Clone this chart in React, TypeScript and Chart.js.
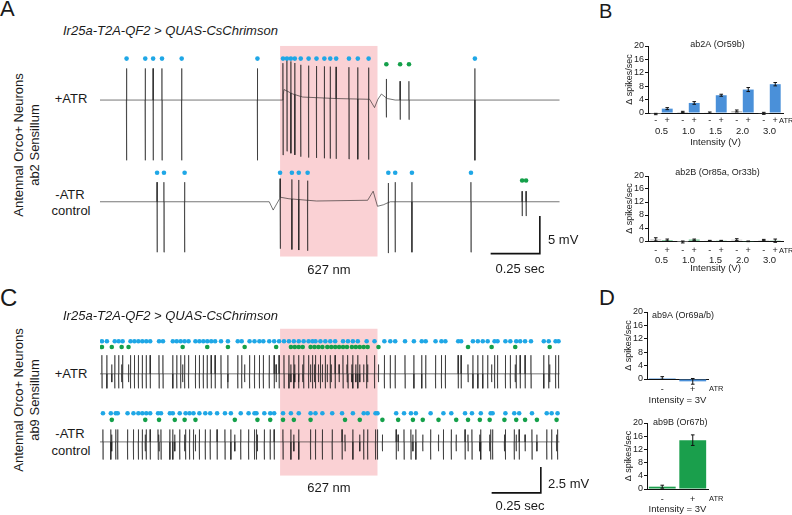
import React, { useEffect, useRef } from "react";
import { Chart, registerables } from "chart.js";

Chart.register(...registerables);

const FONT = "'Liberation Sans', Arial, Helvetica, sans-serif";
Chart.defaults.font.family = FONT;
Chart.defaults.color = "#222";

// ---------------- Panel A (ab2) : spike times in ms ----------------
const A_PLUS_SPIKES_A = [135, 230, 270, 315, 415, 800, 930, 950, 970, 990, 1020, 1060, 1100, 1140, 1170, 1200, 1265, 1310, 1365, 1905];
const A_PLUS_SPIKES_B = [1455, 1525, 1570];
const A_MINUS_SPIKES_A = [290, 325, 430, 915, 975, 1010, 1055, 1465, 1500, 1585, 1885];
const A_MINUS_SPIKES_B = [2145, 2165];
// slow baseline deflections [ms, mV]
const A_PLUS_BASELINE: [number, number][] = [[0, 0], [925, 0], [935, 1.4], [980, 0.8], [1030, 0.4], [1200, 0.2], [1370, 0.1], [1395, -1.0], [1412, 0.1], [1430, 0.8], [1460, 0.2], [1500, 0], [2335, 0]];
const A_MINUS_BASELINE: [number, number][] = [[0, 0], [860, 0], [880, -1.1], [918, 0.6], [960, 0.4], [1100, 0.1], [1360, 0.2], [1388, 1.4], [1410, -0.6], [1440, -0.4], [1475, 0], [2335, 0]];
// spike amplitudes [up, down] mV
const A_PLUS_AMP_A = [4.2, 8.0];
const A_PLUS_AMP_B = [2.5, 2.6];
const A_MINUS_AMP_A = [2.6, 6.7];
const A_MINUS_AMP_B = [1.4, 1.9];

// ---------------- Panel C (ab9) : spike times in ms ----------------
const C_PLUS_SPIKES_A = [10, 35, 75, 95, 115, 155, 175, 195, 215, 235, 255, 300, 320, 370, 390, 410, 430, 450, 485, 505, 525, 545, 565, 585, 615, 650, 700, 720, 760, 785, 810, 830, 860, 885, 910, 935, 960, 985, 1010, 1035, 1060, 1080, 1095, 1120, 1145, 1170, 1195, 1235, 1260, 1285, 1310, 1355, 1395, 1445, 1475, 1500, 1550, 1595, 1635, 1655, 1705, 1735, 1755, 1820, 1835, 1895, 1920, 1945, 1970, 2005, 2020, 2060, 2085, 2115, 2135, 2160, 2190, 2255, 2280, 2315, 2330];
const C_PLUS_SPIKES_B = [10, 60, 110, 145, 420, 545, 650, 735, 895, 970, 990, 1010, 1030, 1070, 1090, 1110, 1130, 1155, 1175, 1195, 1215, 1235, 1255, 1280, 1300, 1320, 1340, 1360, 1415, 1870, 1990, 2110, 2285];
const C_MINUS_SPIKES_A = [15, 55, 80, 90, 140, 170, 195, 215, 235, 255, 295, 310, 355, 370, 405, 435, 455, 475, 505, 535, 560, 595, 635, 665, 715, 755, 785, 795, 835, 865, 885, 930, 970, 1010, 1070, 1095, 1130, 1180, 1230, 1285, 1340, 1360, 1400, 1410, 1505, 1545, 1580, 1605, 1680, 1745, 1785, 1855, 1890, 1935, 1985, 1995, 2060, 2105, 2130, 2195, 2270, 2295, 2325];
const C_MINUS_SPIKES_B = [60, 230, 300, 380, 430, 485, 685, 800, 865, 930, 985, 1070, 1245, 1320, 1435, 1515, 1590, 1640, 1720, 1810, 1870, 1930, 1980, 2055, 2115, 2160, 2220, 2320];
const C_PLUS_BASELINE: [number, number][] = [[0, 0], [2335, 0]];
const C_MINUS_BASELINE: [number, number][] = [[0, 0], [2335, 0]];
const C_PLUS_AMP_A = [1.8, 1.4];
const C_PLUS_AMP_B = [0.9, 0.8];
const C_MINUS_AMP_A = [1.2, 1.7];
const C_MINUS_AMP_B = [0.7, 0.9];

// light stimulus (ms)
const LIGHT_ON = 915;
const LIGHT_OFF = 1410;

// ---------------- Panel B / D bar data ----------------
const INTENSITIES = ["0.5", "1.0", "1.5", "2.0", "3.0"];
const AB2A_MINUS = [-0.3, 0.3, 0.1, 0.6, -0.1];
const AB2A_MINUS_ERR = [0.2, 0.2, 0.2, 0.3, 0.3];
const AB2A_PLUS = [1.3, 3.0, 5.3, 7.0, 8.6];
const AB2A_PLUS_ERR = [0.3, 0.4, 0.3, 0.6, 0.5];
const AB2B_MINUS = [0.5, -0.3, 0.1, 0.4, 0.3];
const AB2B_MINUS_ERR = [0.5, 0.3, 0.1, 0.3, 0.2];
const AB2B_PLUS = [0.3, 0.4, 0.1, -0.1, 0.1];
const AB2B_PLUS_ERR = [0.3, 0.2, 0.1, 0.1, 0.5];
const ATR_LABELS = ["-", "+"];
const AB9A_VALUES = [0.3, -0.7];
const AB9A_ERR = [0.4, 0.85];
const AB9B_VALUES = [0.7, 14.8];
const AB9B_ERR = [0.45, 1.6];
const Y_TICK_STEP = 4;
const Y_MAX = 20;

// ---------------- colours ----------------
const TRACE = "rgba(25,25,25,0.85)";
const BLUE_DOT = "#1fa7e6";
const GREEN_DOT = "#14a04a";
const BAR_BLUE = "#4a90d9";
const BAR_GREEN = "#1a9f4c";
const BAR_GRAY = "#c2c2c2";
const PINK = "rgba(242, 140, 148, 0.4)";

function baseAt(knots: [number, number][], t: number) {
  for (let i = 0; i < knots.length - 1; i++) {
    const [t0, v0] = knots[i];
    const [t1, v1] = knots[i + 1];
    if (t >= t0 && t <= t1) return v0 + ((v1 - v0) * (t - t0)) / (t1 - t0 || 1);
  }
  return knots[knots.length - 1][1];
}

function buildTrace(knots: [number, number][], offset: number, spikes: { times: number[]; amp: number[] }[]) {
  const pts: { x: number; y: number }[] = knots.map(([t, v]) => ({ x: t, y: v + offset }));
  spikes.forEach((s) =>
    s.times.forEach((t) => {
      const b = baseAt(knots, t) + offset;
      pts.push({ x: t - 1.0, y: b }, { x: t - 0.3, y: b + s.amp[0] }, { x: t + 0.3, y: b - s.amp[1] }, { x: t + 1.2, y: b });
    })
  );
  pts.sort((a, b) => a.x - b.x);
  return pts;
}

const lightBoxPlugin = {
  id: "lightBox",
  beforeDatasetsDraw(chart: any, _a: any, o: any) {
    const { ctx, scales } = chart;
    const x0 = scales.x.getPixelForValue(o.from);
    const x1 = scales.x.getPixelForValue(o.to);
    const y0 = scales.y.getPixelForValue(o.top);
    const y1 = scales.y.getPixelForValue(o.bottom);
    ctx.save();
    ctx.fillStyle = PINK;
    ctx.fillRect(x0, y0, x1 - x0, y1 - y0);
    ctx.restore();
  },
};

const scaleBarPlugin = {
  id: "scaleBar",
  afterDatasetsDraw(chart: any, _a: any, o: any) {
    const { ctx, scales } = chart;
    const xa = scales.x.getPixelForValue(o.xEnd - o.xLen);
    const xb = scales.x.getPixelForValue(o.xEnd);
    const yb = scales.y.getPixelForValue(o.yBottom);
    const yt = scales.y.getPixelForValue(o.yBottom + o.yLen);
    ctx.save();
    ctx.strokeStyle = "#111";
    ctx.lineWidth = 1.6;
    ctx.beginPath();
    ctx.moveTo(xa, yb);
    ctx.lineTo(xb, yb);
    ctx.lineTo(xb, yt);
    ctx.stroke();
    ctx.restore();
  },
};

type Row = {
  baseline: [number, number][];
  offset: number;
  spikesA: number[];
  spikesB: number[];
  ampA: number[];
  ampB: number[];
  dotA: number;
  dotB: number;
};

function traceConfig(rows: Row[], yMin: number, yMax: number, light: any, bar: any) {
  const datasets: any[] = [];
  rows.forEach((r) => {
    datasets.push({
      data: buildTrace(r.baseline, r.offset, [
        { times: r.spikesA, amp: r.ampA },
        { times: r.spikesB, amp: r.ampB },
      ]),
      showLine: true,
      borderColor: TRACE,
      borderWidth: 0.7,
      pointRadius: 0,
      order: 2,
    });
    datasets.push({
      data: r.spikesA.map((t) => ({ x: t, y: r.dotA })),
      showLine: false,
      pointRadius: 2.3,
      backgroundColor: BLUE_DOT,
      borderWidth: 0,
      order: 1,
    });
    datasets.push({
      data: r.spikesB.map((t) => ({ x: t, y: r.dotB })),
      showLine: false,
      pointRadius: 2.3,
      backgroundColor: GREEN_DOT,
      borderWidth: 0,
      order: 1,
    });
  });
  return {
    type: "scatter",
    data: { datasets },
    options: {
      animation: false,
      responsive: false,
      events: [],
      layout: { padding: 0 },
      plugins: { legend: { display: false }, tooltip: { enabled: false }, lightBox: light, scaleBar: bar },
      scales: {
        x: { type: "linear", display: false, min: 0, max: 2500 },
        y: { type: "linear", display: false, min: yMin, max: yMax },
      },
    },
    plugins: [lightBoxPlugin, scaleBarPlugin],
  };
}

const barDecorPlugin = {
  id: "barDecor",
  afterDatasetsDraw(chart: any, _a: any, o: any) {
    const { ctx, chartArea, scales } = chart;
    const y = scales.y;
    ctx.save();
    chart.data.datasets.forEach((ds: any, di: number) => {
      const meta = chart.getDatasetMeta(di);
      meta.data.forEach((el: any, i: number) => {
        const v = ds.data[i];
        const e = ds.errors[i];
        const yt = y.getPixelForValue(v + e);
        const yb = y.getPixelForValue(v - e);
        ctx.strokeStyle = "#111";
        ctx.lineWidth = 1;
        ctx.beginPath();
        ctx.moveTo(el.x, yt);
        ctx.lineTo(el.x, yb);
        ctx.moveTo(el.x - 1.8, yt);
        ctx.lineTo(el.x + 1.8, yt);
        ctx.moveTo(el.x - 1.8, yb);
        ctx.lineTo(el.x + 1.8, yb);
        ctx.stroke();
        if (o.showSigns) {
          ctx.fillStyle = "#222";
          ctx.font = `9px ${FONT}`;
          ctx.textAlign = "center";
          ctx.textBaseline = "middle";
          ctx.fillText(ds.sign, el.x, chartArea.bottom + o.signDy);
        }
      });
    });
    ctx.fillStyle = "#222";
    ctx.font = `7.5px ${FONT}`;
    ctx.textAlign = "left";
    ctx.textBaseline = "middle";
    ctx.fillText("ATR", chartArea.right + o.atrDx, chartArea.bottom + o.signDy);
    ctx.font = `9px ${FONT}`;
    ctx.textAlign = o.titleAlign;
    const tx = o.titleAlign === "center" ? (chartArea.left + chartArea.right) / 2 + o.titleDx : chartArea.left + o.titleDx;
    ctx.fillText(o.title, tx, chartArea.top + o.titleDy);
    ctx.restore();
  },
};

function barConfig(p: {
  labels: string[];
  datasets: any[];
  xTitle: string;
  padTop: number;
  padRight: number;
  yAxisWidth: number;
  xAxisHeight: number;
  tickPad: number;
  tickSize: number;
  catPct: number;
  barPct: number;
  decor: any;
}) {
  return {
    type: "bar",
    data: {
      labels: p.labels,
      datasets: p.datasets.map((d) => ({
        ...d,
        categoryPercentage: p.catPct,
        barPercentage: p.barPct,
        borderWidth: 0,
        clip: false,
      })),
    },
    options: {
      animation: false,
      responsive: false,
      events: [],
      layout: { padding: { top: p.padTop, right: p.padRight, left: 0, bottom: 0 } },
      plugins: { legend: { display: false }, tooltip: { enabled: false }, barDecor: p.decor },
      scales: {
        x: {
          grid: { display: false, drawTicks: false },
          border: { display: true, color: "#111", width: 1 },
          ticks: { padding: p.tickPad, font: { size: p.tickSize }, color: "#222", maxRotation: 0, autoSkip: false },
          title: { display: true, text: p.xTitle, font: { size: 9.5 }, padding: 0, color: "#222" },
          afterFit: (s: any) => {
            s.height = p.xAxisHeight;
          },
        },
        y: {
          min: 0,
          max: Y_MAX,
          ticks: { stepSize: Y_TICK_STEP, font: { size: 9 }, padding: 1, color: "#222", autoSkip: false },
          grid: { drawOnChartArea: false, drawTicks: true, tickLength: 3, color: "#111" },
          border: { display: true, color: "#111", width: 1 },
          title: { display: true, text: "Δ spikes/sec", font: { size: 9 }, padding: 0, color: "#222" },
          afterFit: (s: any) => {
            s.width = p.yAxisWidth;
          },
        },
      },
    },
    plugins: [barDecorPlugin],
  };
}

function ChartCanvas({ left, top, width, height, config }: { left: number; top: number; width: number; height: number; config: () => any }) {
  const ref = useRef<HTMLCanvasElement>(null);
  useEffect(() => {
    const chart = new Chart(ref.current as HTMLCanvasElement, config());
    return () => chart.destroy();
  }, []);
  return <canvas ref={ref} width={width} height={height} style={{ position: "absolute", left, top, width, height }} />;
}

function Txt({ x, y, children, size = 13, align = "left", italic = false }: any) {
  return (
    <div
      style={{
        position: "absolute",
        left: x,
        top: y,
        transform: `translate(${align === "center" ? "-50%" : "0"}, -50%)`,
        fontSize: size,
        fontStyle: italic ? "italic" : "normal",
        whiteSpace: "nowrap",
        lineHeight: 1,
        color: "#1a1a1a",
      }}
    >
      {children}
    </div>
  );
}

function Rotated({ x, y, lines }: { x: number; y: number; lines: string[] }) {
  return (
    <div
      style={{
        position: "absolute",
        left: x,
        top: y,
        transform: "translate(-50%, -50%) rotate(-90deg)",
        textAlign: "center",
        fontSize: 13,
        lineHeight: "15.5px",
        whiteSpace: "nowrap",
        color: "#1a1a1a",
      }}
    >
      {lines.map((l, i) => (
        <div key={i}>{l}</div>
      ))}
    </div>
  );
}

export default function App() {
  const cfgA = () =>
    traceConfig(
      [
        { baseline: A_PLUS_BASELINE, offset: 0, spikesA: A_PLUS_SPIKES_A, spikesB: A_PLUS_SPIKES_B, ampA: A_PLUS_AMP_A, ampB: A_PLUS_AMP_B, dotA: 5.5, dotB: 4.75 },
        { baseline: A_MINUS_BASELINE, offset: -13.5, spikesA: A_MINUS_SPIKES_A, spikesB: A_MINUS_SPIKES_B, ampA: A_MINUS_AMP_A, ampB: A_MINUS_AMP_B, dotA: -9.65, dotB: -10.68 },
      ],
      -22.69,
      7.44,
      { from: LIGHT_ON, to: LIGHT_OFF, top: 7.18, bottom: -20.77 },
      { xEnd: 2235, xLen: 250, yBottom: -20.38, yLen: 5 }
    );
  const cfgC = () =>
    traceConfig(
      [
        { baseline: C_PLUS_BASELINE, offset: 0, spikesA: C_PLUS_SPIKES_A, spikesB: C_PLUS_SPIKES_B, ampA: C_PLUS_AMP_A, ampB: C_PLUS_AMP_B, dotA: 3.15, dotB: 2.59 },
        { baseline: C_MINUS_BASELINE, offset: -6.57, spikesA: C_MINUS_SPIKES_A, spikesB: C_MINUS_SPIKES_B, ampA: C_MINUS_AMP_A, ampB: C_MINUS_AMP_B, dotA: -3.8, dotB: -4.44 },
      ],
      -13.24,
      4.81,
      { from: LIGHT_ON, to: LIGHT_OFF, top: 4.35, bottom: -9.82 },
      { xEnd: 2240, xLen: 250, yBottom: -11.49, yLen: 2.5 }
    );

  const cfgB1 = () =>
    barConfig({
      labels: INTENSITIES,
      datasets: [
        { data: AB2A_MINUS, errors: AB2A_MINUS_ERR, backgroundColor: BAR_GRAY, sign: "-" },
        { data: AB2A_PLUS, errors: AB2A_PLUS_ERR, backgroundColor: BAR_BLUE, sign: "+" },
      ],
      xTitle: "Intensity (V)",
      padTop: 10,
      padRight: 9,
      yAxisWidth: 24,
      xAxisHeight: 35,
      tickPad: 13,
      tickSize: 9.5,
      catPct: 0.85,
      barPct: 0.95,
      decor: { showSigns: true, signDy: 8, atrDx: -4, title: "ab2A (Or59b)", titleAlign: "center", titleDx: 2, titleDy: -1 },
    });
  const cfgB2 = () =>
    barConfig({
      labels: INTENSITIES,
      datasets: [
        { data: AB2B_MINUS, errors: AB2B_MINUS_ERR, backgroundColor: BAR_GRAY, sign: "-" },
        { data: AB2B_PLUS, errors: AB2B_PLUS_ERR, backgroundColor: BAR_GREEN, sign: "+" },
      ],
      xTitle: "Intensity (V)",
      padTop: 10,
      padRight: 9,
      yAxisWidth: 24,
      xAxisHeight: 33,
      tickPad: 14,
      tickSize: 9.5,
      catPct: 0.85,
      barPct: 0.95,
      decor: { showSigns: true, signDy: 10, atrDx: -4, title: "ab2B (Or85a, Or33b)", titleAlign: "center", titleDx: 2, titleDy: -3 },
    });
  const cfgD1 = () =>
    barConfig({
      labels: ATR_LABELS,
      datasets: [{ data: AB9A_VALUES, errors: AB9A_ERR, backgroundColor: [BAR_BLUE, BAR_BLUE] }],
      xTitle: "Intensity = 3V",
      padTop: 10,
      padRight: 84,
      yAxisWidth: 24,
      xAxisHeight: 27,
      tickPad: 5,
      tickSize: 9,
      catPct: 1,
      barPct: 0.88,
      decor: { showSigns: false, signDy: 10, atrDx: 1, title: "ab9A (Or69a/b)", titleAlign: "left", titleDx: 5, titleDy: 4 },
    });
  const cfgD2 = () =>
    barConfig({
      labels: ATR_LABELS,
      datasets: [{ data: AB9B_VALUES, errors: AB9B_ERR, backgroundColor: [BAR_GREEN, BAR_GREEN] }],
      xTitle: "Intensity = 3V",
      padTop: 10,
      padRight: 84,
      yAxisWidth: 24,
      xAxisHeight: 26,
      tickPad: 5,
      tickSize: 9,
      catPct: 1,
      barPct: 0.88,
      decor: { showSigns: false, signDy: 10, atrDx: 1, title: "ab9B (Or67b)", titleAlign: "left", titleDx: 6, titleDy: 0 },
    });

  return (
    <div
      style={{
        position: "fixed",
        left: 0,
        top: 0,
        width: 792,
        height: 515,
        overflow: "hidden",
        background: "#fff",
        fontFamily: FONT,
      }}
    >
      <ChartCanvas left={96} top={40} width={500} height={235} config={cfgA} />
      <ChartCanvas left={96} top={320} width={500} height={195} config={cfgC} />
      <ChartCanvas left={624} top={36} width={168} height={112} config={cfgB1} />
      <ChartCanvas left={624} top={166} width={168} height={108} config={cfgB2} />
      <ChartCanvas left={623} top={302} width={169} height={104} config={cfgD1} />
      <ChartCanvas left={623} top={413} width={169} height={102} config={cfgD2} />

      <Txt x={0} y={9} size={22}>A</Txt>
      <Txt x={599} y={11} size={20}>B</Txt>
      <Txt x={0} y={298} size={24}>C</Txt>
      <Txt x={599} y={298} size={22}>D</Txt>

      <Txt x={63} y={30} italic>{"Ir25a-T2A-QF2 > QUAS-CsChrimson"}</Txt>
      <Txt x={63} y={315} italic>{"Ir25a-T2A-QF2 > QUAS-CsChrimson"}</Txt>

      <Rotated x={26} y={145} lines={["Antennal Orco+ Neurons", "ab2 Sensillum"]} />
      <Rotated x={26} y={400} lines={["Antennal Orco+ Neurons", "ab9 Sensillum"]} />

      <Txt x={71} y={98} align="center">+ATR</Txt>
      <Txt x={70} y={194} align="center">-ATR</Txt>
      <Txt x={71} y={210} align="center">control</Txt>
      <Txt x={71} y={373} align="center">+ATR</Txt>
      <Txt x={70} y={433} align="center">-ATR</Txt>
      <Txt x={71} y={450} align="center">control</Txt>

      <Txt x={329} y={269} align="center">627 nm</Txt>
      <Txt x={329} y={487} align="center">627 nm</Txt>
      <Txt x={548} y={239}>5 mV</Txt>
      <Txt x={520} y={268} align="center">0.25 sec</Txt>
      <Txt x={548} y={483}>2.5 mV</Txt>
      <Txt x={520} y={505} align="center">0.25 sec</Txt>
    </div>
  );
}
